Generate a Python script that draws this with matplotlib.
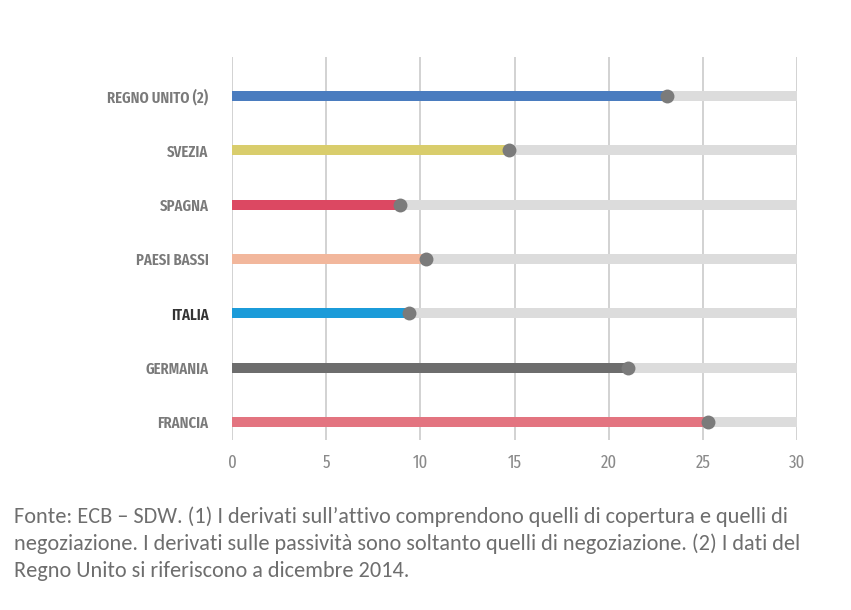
import matplotlib
matplotlib.use("Agg")
import matplotlib.pyplot as plt

# Quota dei derivati per paese (valori in %), dal basso verso l'alto
paesi = ["FRANCIA", "GERMANIA", "ITALIA", "PAESI BASSI", "SPAGNA", "SVEZIA", "REGNO UNITO (2)"]
valori = [25.3, 21.0, 9.4, 10.3, 8.9, 14.7, 23.1]
colori = ["#e37480", "#6d6d6d", "#1b9bd9", "#f2b79c", "#dc4862", "#d9cd6c", "#4a7cbf"]
massimo = 30
xticks = [0, 5, 10, 15, 20, 25, 30]

nota = ("Fonte: ECB – SDW. (1) I derivati sull’attivo comprendono quelli di copertura e quelli di\n"
        "negoziazione. I derivati sulle passività sono soltanto quelli di negoziazione. (2) I dati del\n"
        "Regno Unito si riferiscono a dicembre 2014.")

font_etichette = ["Fira Sans Extra Condensed", "DejaVu Sans"]
font_nota = ["Carlito", "Open Sans", "DejaVu Sans"]

fig = plt.figure(figsize=(8.51, 6.10), dpi=100)
ax = fig.add_axes([232 / 851, 1 - 440 / 610, 565 / 851, 383 / 610])

for i, (v, c) in enumerate(zip(valori, colori)):
    ax.plot([0, massimo], [i, i], color="#dcdcdc", lw=7.2, solid_capstyle="butt", zorder=2)
    ax.plot([0, v], [i, i], color=c, lw=7.2, solid_capstyle="butt", zorder=3)
    ax.plot(v, i, "o", color="#7b7b7b", ms=10, mec="none", zorder=4)

for x in xticks:
    ax.axvline(x, color="#c6c6c6", lw=1.1, zorder=1)

ax.set_xlim(0, massimo)
ax.set_ylim(-0.33, len(paesi) - 1 + 0.72)
for s in ax.spines.values():
    s.set_visible(False)
ax.tick_params(length=0)
ax.set_xticks(xticks)
ax.set_xticklabels([str(x) for x in xticks], family=font_etichette, fontsize=13,
                   color="#8a8a8a")
ax.tick_params(axis="x", pad=10)
ax.set_yticks(range(len(paesi)))
ax.set_yticklabels(paesi, family=font_etichette, fontsize=11.5, fontweight=600,
                   color="#7a7a7a")
ax.get_yticklabels()[paesi.index("ITALIA")].set_color("#333333")
ax.tick_params(axis="y", pad=17)

fig.text(14 / 851, 1 - 506 / 610, nota, ha="left", va="top", family=font_nota,
         fontsize=16, color="#6e6e6e", linespacing=1.42)

fig.savefig("out.png", dpi=100, facecolor="white")
